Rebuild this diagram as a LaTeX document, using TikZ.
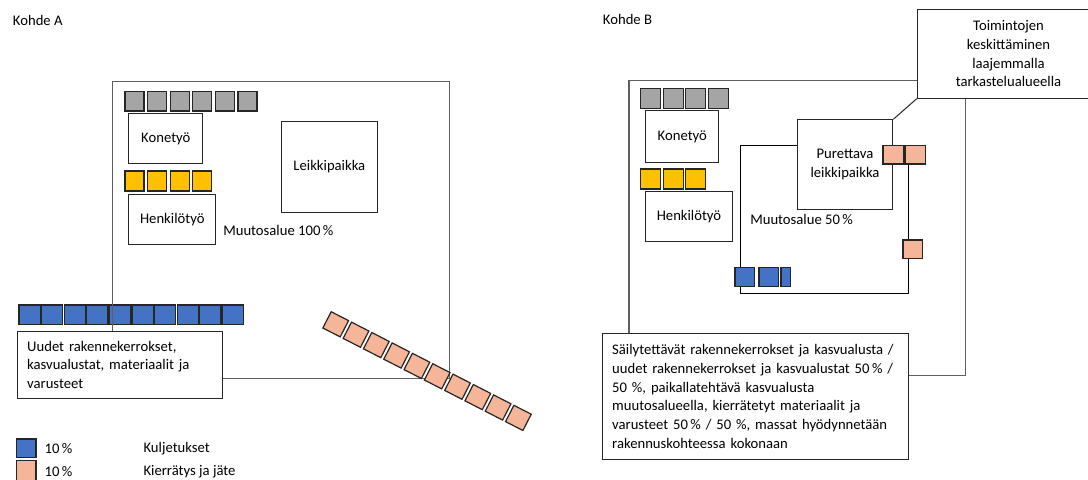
\documentclass[tikz,border=0pt]{standalone}
\usepackage{fontspec}
\setmainfont{Carlito}
\definecolor{sqgray}{HTML}{A5A5A5}
\definecolor{sqyellow}{HTML}{FFC000}
\definecolor{sqblue}{HTML}{4472C4}
\definecolor{sqpink}{HTML}{F5B598}
\definecolor{edgecol}{HTML}{262626}
\definecolor{framegray}{HTML}{5F5F5F}
\newcommand\mkbox[7]{\node[#6, minimum width={(#4-#2)*0.75pt}, minimum height={(#5-#3)*0.75pt}] (#1) at (#2,#3) {#7};}
\begin{document}
\begin{tikzpicture}[x=0.75pt,y=-0.75pt, font=\fontsize{11}{14}\selectfont,
 sq/.style={draw=edgecol, line width=0.9pt, inner sep=0pt, anchor=north west},
 box/.style={draw=edgecol, line width=0.75pt, fill=white, inner sep=0pt, anchor=north west},
 framebox/.style={draw=framegray, line width=1.1pt, inner sep=0pt, anchor=north west},
 regionbox/.style={draw=black, line width=0.8pt, inner sep=0pt, anchor=north west},
 lbl/.style={inner sep=0pt, anchor=west},
 textbox/.style={box, inner xsep=7.5pt, align=left},
 conn/.style={draw=edgecol, line width=0.75pt},
]
\useasboundingbox (0,0) rectangle (1088,479);

% ---------------- Kohde A ----------------
\node[lbl] (titleA) at (12.7,20) {Kohde A};

\foreach \i in {0,...,5}
  \node[sq, fill=sqgray, minimum width=19*0.75pt, minimum height=19.6*0.75pt] (ga\i) at ({124.3+22.6*\i},90.7) {};
\foreach \i in {0,...,3}
  \node[sq, fill=sqyellow, minimum width=19*0.75pt, minimum height=20*0.75pt] (ya\i) at ({124.3+22.6*\i},170.3) {};

\mkbox{koneA}{128.3}{113.3}{202.3}{163.3}{box}{Konetyö}
\mkbox{henkA}{128.3}{194}{215.3}{244.3}{box}{Henkilötyö}
\mkbox{leikA}{281}{121.3}{376.7}{211.7}{box}{Leikkipaikka}
\node[lbl] (muutA) at (223,230) {Muutosalue 100\,\%};

\foreach \i in {0,...,9}
  \node[sq, fill=sqblue, minimum width=21.3*0.75pt, minimum height=19.7*0.75pt] (ba\i) at ({18.3+22.6*\i},304.3) {};

\mkbox{frameA}{112}{81}{449}{378}{framebox}{}

\mkbox{textA}{16.7}{331}{220.7}{397.7}{textbox, text width=139pt}{Uudet rakennekerrokset,\\kasvualustat, materiaalit ja\\varusteet}

\foreach \i in {0,...,9}
  \node[sq, anchor=center, rotate=-27.1, fill=sqpink, minimum width=19.5*0.75pt, minimum height=18.3*0.75pt] (pa\i) at ({335.7+20.3*\i},{324.3+10.4*\i}) {};

% legend
\mkbox{legblue}{15.7}{438.3}{35.3}{456.7}{sq, fill=sqblue}{}
\mkbox{legpink}{15.7}{460}{35.3}{480}{sq, fill=sqpink}{}
\node[lbl] (legbluepct) at (44.3,449) {10\,\%};
\node[lbl] (legpinkpct) at (44.3,471.7) {10\,\%};
\node[lbl] (legbluetxt) at (143.3,449) {Kuljetukset};
\node[lbl] (legpinktxt) at (143.3,471.7) {Kierrätys ja jäte};

% ---------------- Kohde B ----------------
\node[lbl] (titleB) at (602.7,19.3) {Kohde B};

\mkbox{frameB}{628.3}{79.7}{965}{374.7}{framebox}{}

\foreach \i in {0,...,3}
  \node[sq, fill=sqgray, minimum width=20*0.75pt, minimum height=20*0.75pt] (gb\i) at ({640+22.6*\i},87.7) {};
\foreach \i in {0,...,2}
  \node[sq, fill=sqyellow, minimum width=20*0.75pt, minimum height=20*0.75pt] (yb\i) at ({640+22.6*\i},168.3) {};

\mkbox{koneB}{645.3}{110.3}{718.3}{161.7}{box}{Konetyö}
\mkbox{henkB}{645.3}{191}{731.7}{241}{box}{Henkilötyö}

\mkbox{muutRegB}{739.7}{145}{908.3}{293.3}{regionbox}{}
\mkbox{purB}{796.7}{119.3}{892.3}{209.3}{box, align=center}{Purettava\\leikkipaikka}
\node[lbl] (muutB) at (750,219.3) {Muutosalue 50\,\%};

\mkbox{pb0}{882.3}{145}{903.3}{163.3}{sq, fill=sqpink}{}
\mkbox{pb1}{905}{145}{925}{163.3}{sq, fill=sqpink}{}
\mkbox{pb2}{902.3}{239.3}{921.7}{257.7}{sq, fill=sqpink}{}

\mkbox{bb0}{734.3}{266.7}{754}{286}{sq, fill=sqblue}{}
\mkbox{bb1}{758.3}{266.7}{777.7}{286}{sq, fill=sqblue}{}
\mkbox{bb2}{780.3}{266.7}{790}{286}{sq, fill=sqblue}{}

\mkbox{textB}{601.7}{332.7}{908.3}{459}{textbox, text width=215pt}{Säilytettävät rakennekerrokset ja kasvualusta /\\uudet rakennekerrokset ja kasvualustat 50\,\% /\\50 \%, paikallatehtävä kasvualusta\\muutosalueella, kierrätetyt materiaalit ja\\varusteet 50\,\% / 50 \%, massat hyödynnetään\\rakennuskohteessa kokonaan}

\mkbox{toimB}{916.7}{9}{1099.3}{97.7}{box, align=center}{Toimintojen\\keskittäminen\\laajemmalla\\tarkastelualueella}

\draw[conn] (toimB.south west) -- (purB.north east);

\end{tikzpicture}
\end{document}
